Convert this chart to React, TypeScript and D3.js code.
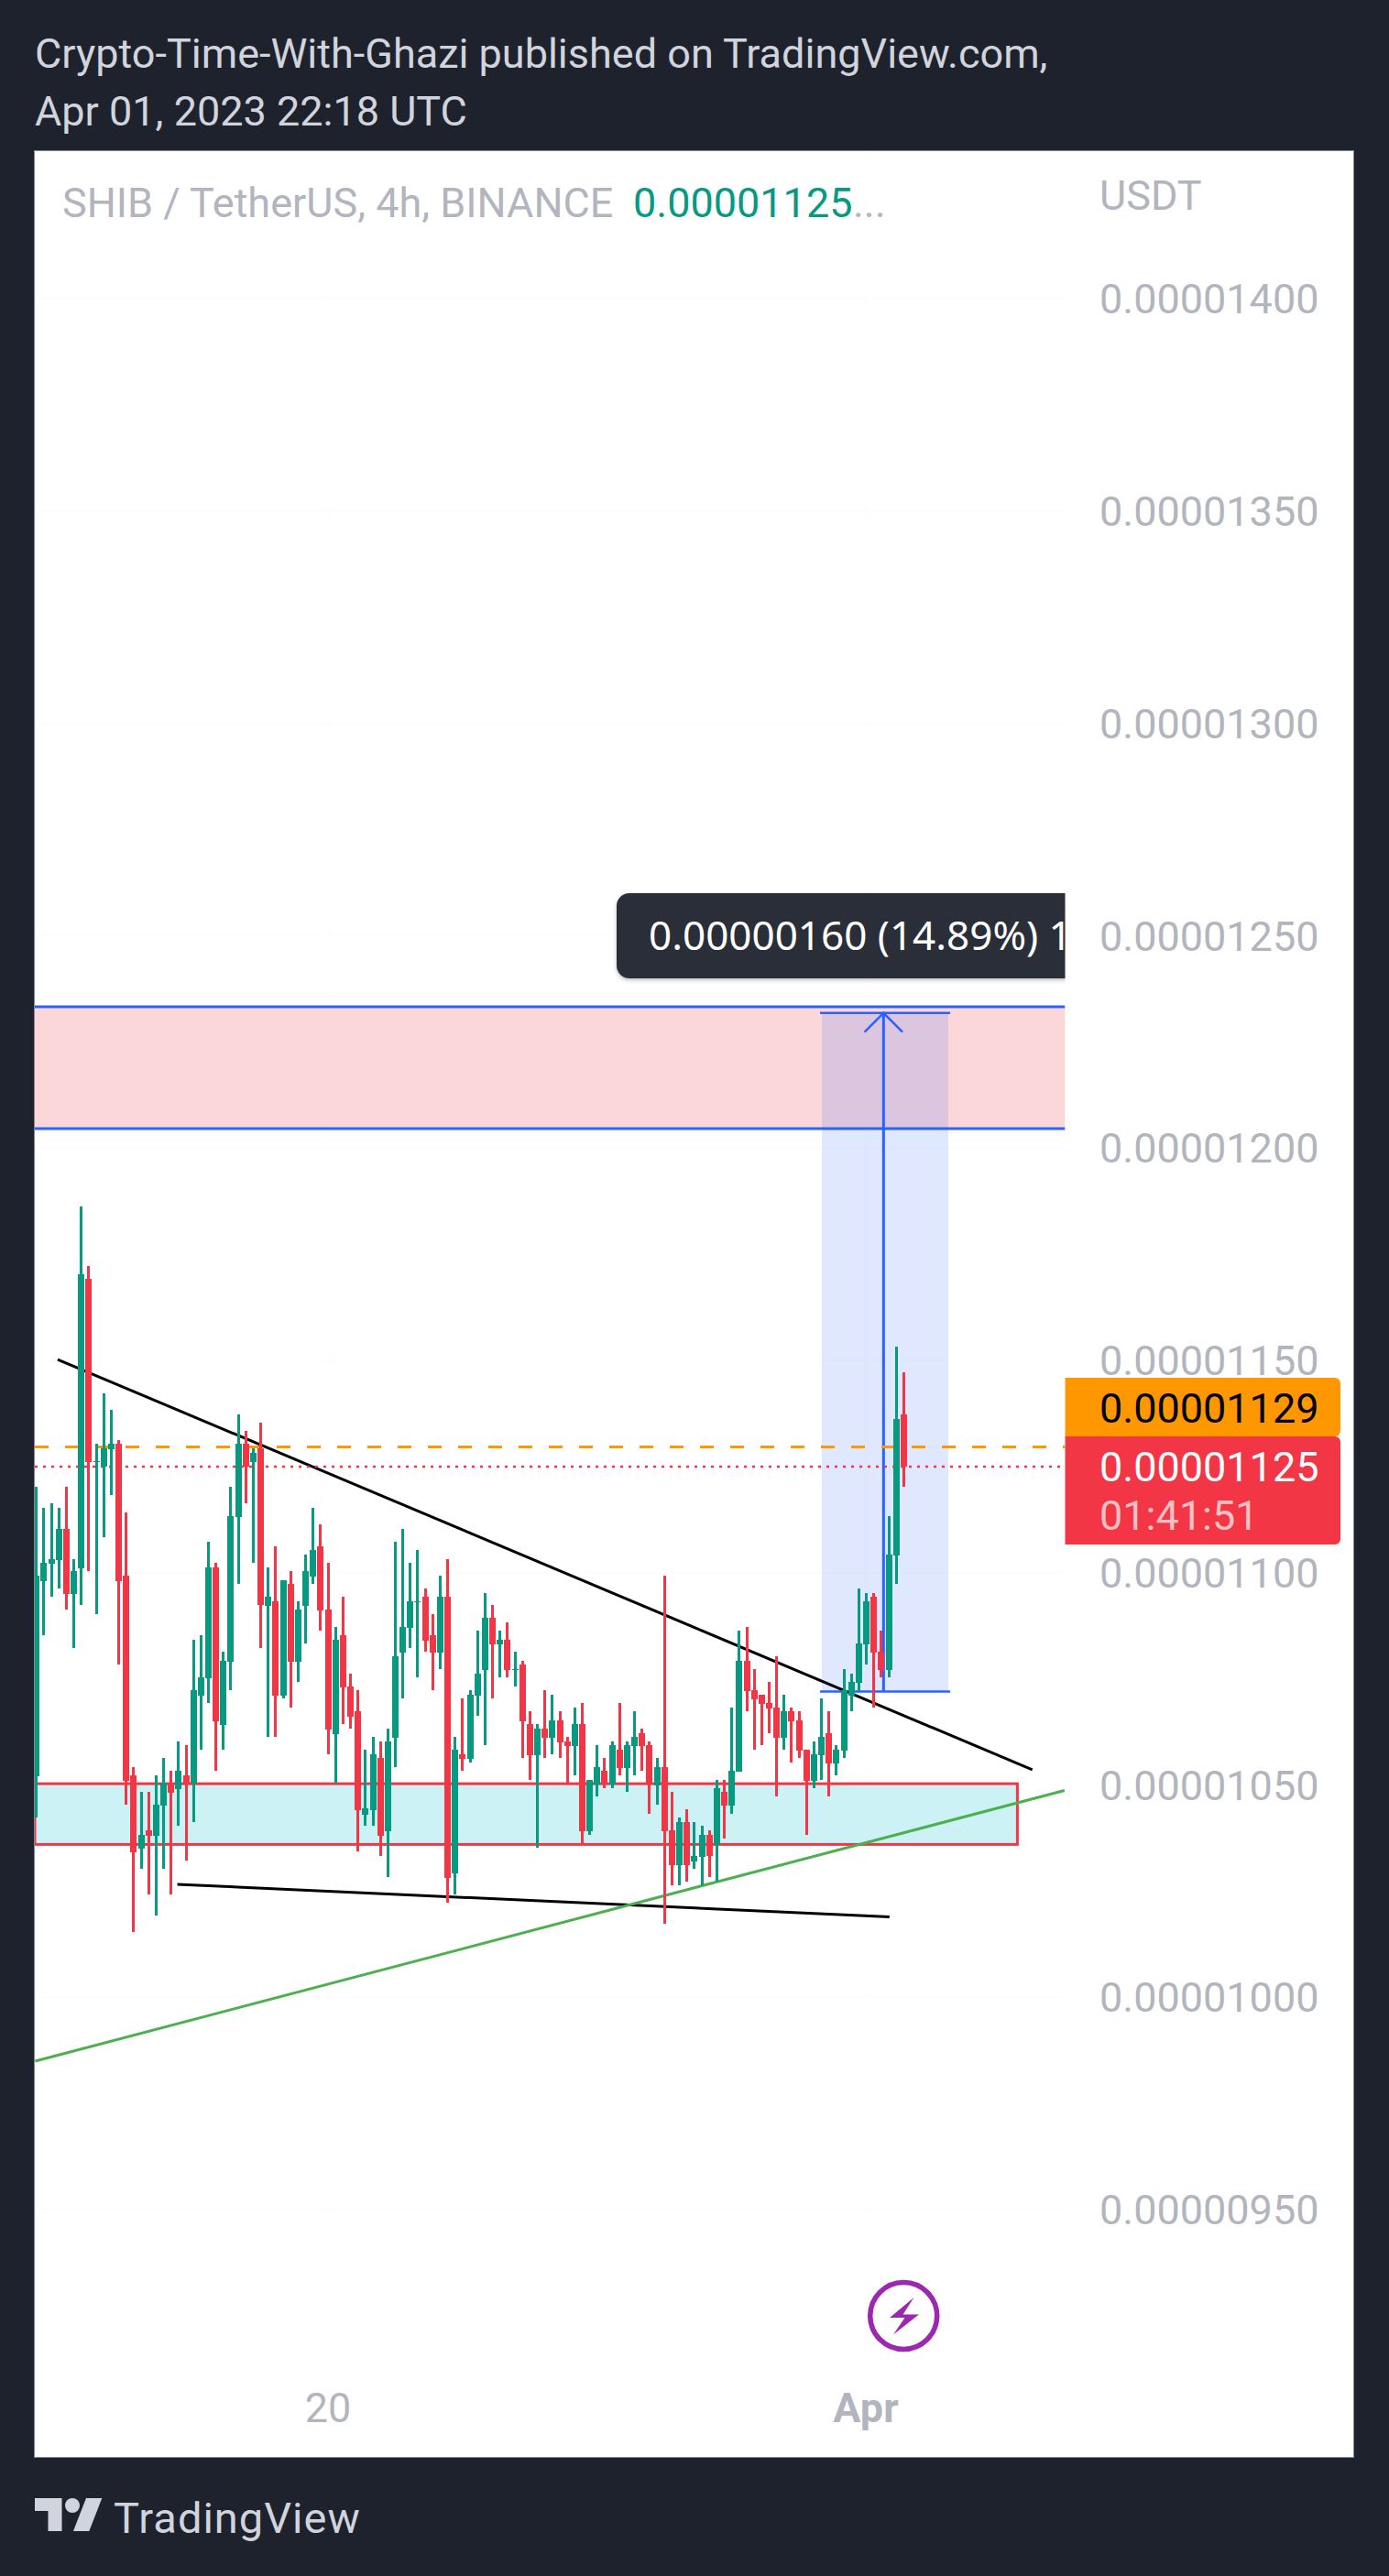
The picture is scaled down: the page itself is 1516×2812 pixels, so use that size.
import React from "react";
import * as d3 from "d3";

const opens = [1052.0,1098.0,1102.0,1103.0,1110.3,1094.9,1101.0,1169.3,1126.1,1125.0,
1129.0,1130.3,1099.3,1052.2,1034.9,1039.4,1038.0,1045.1,1050.5,1049.0,
1052.2,1050.3,1071.0,1075.2,1101.2,1064.2,1079.0,1113.1,1130.3,1126.1,
1129.3,1092.2,1093.3,1071.0,1097.3,1079.0,1092.2,1099.1,1106.2,1091.3,
1062.0,1085.3,1073.2,1067.3,1043.0,1044.1,1056.3,1039.1,1061.1,1081.2,
1087.0,1093.1,1094.4,1085.3,1081.2,1094.4,1029.2,1057.2,1056.2,1071.0,
1077.1,1089.3,1083.1,1084.2,1077.2,1078.3,1064.3,1057.0,1063.3,1061.1,
1065.2,1060.3,1059.1,1064.3,1039.1,1050.2,1053.3,1050.2,1058.4,1054.0,
1059.1,1062.2,1059.4,1050.0,1054.2,1039.3,1031.1,1041.3,1032.0,1033.1,
1038.2,1036.0,1048.4,1045.2,1053.1,1079.2,1072.3,1071.3,1069.3,1068.3,
1061.1,1067.4,1065.2,1058.3,1050.9,1057.0,1062.2,1055.1,1058.1,1071.1,
1074.0,1083.1,1094.3,1081.4,1077.0,1104.0,1137.2];

const highs = [1120.3,1115.3,1116.4,1115.3,1120.3,1103.2,1186.3,1172.2,1130.3,1142.3,
1138.4,1131.3,1114.2,1054.2,1048.3,1048.3,1052.2,1056.4,1053.3,1060.3,
1059.3,1084.2,1085.2,1107.3,1102.3,1081.3,1120.3,1137.3,1133.4,1129.3,
1135.3,1101.2,1106.2,1098.3,1100.4,1093.3,1104.3,1115.3,1111.4,1102.3,
1087.2,1094.4,1076.2,1072.4,1058.4,1061.3,1060.3,1063.3,1107.3,1110.3,
1102.3,1105.4,1096.3,1090.2,1099.3,1103.2,1061.3,1070.4,1072.4,1086.4,
1095.2,1092.4,1086.4,1088.3,1081.4,1079.2,1067.3,1064.3,1072.4,1071.3,
1067.3,1061.3,1068.2,1069.3,1051.2,1059.4,1056.3,1060.3,1069.3,1060.3,
1067.3,1063.3,1060.3,1056.3,1099.3,1048.4,1042.4,1044.3,1041.3,1040.4,
1039.3,1051.2,1051.2,1068.3,1086.4,1087.2,1077.3,1071.3,1074.2,1080.3,
1071.3,1068.3,1067.4,1058.3,1060.3,1070.4,1067.4,1059.4,1077.3,1076.3,
1096.3,1095.2,1095.2,1086.4,1113.3,1153.2,1147.2];

const lows = [1042.4,1085.2,1094.4,1096.2,1091.3,1082.3,1092.3,1100.4,1090.2,1108.3,
1118.3,1078.4,1045.4,1015.4,1030.2,1024.2,1019.2,1030.2,1024.2,1040.4,
1032.2,1041.2,1058.3,1069.3,1053.3,1058.3,1072.3,1097.3,1116.4,1102.3,
1082.3,1061.3,1061.3,1070.3,1068.2,1074.2,1083.3,1097.3,1086.3,1057.2,
1050.3,1064.3,1063.3,1034.4,1040.4,1040.4,1033.3,1028.3,1054.2,1070.4,
1082.2,1075.3,1081.4,1072.4,1077.3,1022.2,1024.2,1053.3,1055.3,1066.3,
1059.4,1070.4,1075.3,1075.3,1073.2,1056.3,1051.2,1035.2,1056.3,1057.2,
1056.3,1050.3,1052.3,1036.0,1038.3,1047.3,1049.3,1049.3,1052.3,1048.4,
1052.3,1053.3,1043.2,1045.3,1017.3,1026.4,1026.4,1027.2,1030.2,1026.4,
1028.3,1027.2,1037.4,1043.2,1053.1,1067.4,1058.3,1059.4,1062.2,1047.3,
1058.3,1055.3,1056.3,1038.2,1049.3,1051.2,1047.3,1052.3,1056.3,1067.4,
1072.1,1078.4,1068.3,1075.4,1075.4,1097.4,1120.2];

const closes = [1099.3,1102.3,1103.2,1110.3,1094.9,1100.4,1170.3,1126.1,1126.2,1129.3,
1130.3,1098.0,1050.9,1034.1,1038.3,1038.0,1045.4,1050.5,1048.2,1053.3,
1050.3,1072.3,1075.3,1101.2,1065.0,1079.2,1113.3,1130.3,1125.0,1128.2,
1092.3,1094.4,1071.0,1098.3,1079.0,1091.3,1100.4,1105.4,1091.2,1063.1,
1084.2,1073.0,1066.1,1044.1,1044.4,1057.2,1038.0,1060.3,1080.3,1087.2,
1093.2,1093.2,1084.0,1081.2,1094.4,1028.1,1058.4,1056.2,1071.3,1076.2,
1089.3,1083.1,1084.2,1077.1,1077.3,1065.0,1057.0,1063.3,1061.1,1065.2,
1060.0,1059.1,1064.3,1039.1,1051.2,1054.2,1050.2,1059.4,1054.0,1059.4,
1061.3,1059.2,1050.2,1054.2,1039.1,1031.1,1041.3,1031.1,1033.3,1038.2,
1033.2,1049.3,1045.2,1053.3,1079.2,1072.1,1070.2,1069.1,1068.0,1061.1,
1067.4,1065.0,1058.1,1050.9,1057.2,1061.3,1055.1,1058.3,1072.3,1074.2,
1083.3,1093.2,1081.2,1077.0,1104.3,1136.2,1125.0];

// Prices are in units of 1e-8 USDT
const priceTicks = [1400, 1350, 1300, 1250, 1200, 1150, 1100, 1050, 1000, 950];
const timeTicks = [
  { label: "20", bar: 39.0, bold: false },
  { label: "Apr", bar: 111.0, bold: true },
];
const titleLines = ["Crypto-Time-With-Ghazi published on TradingView.com,", "Apr 01, 2023 22:18 UTC"];
const legendName = "SHIB / TetherUS, 4h, BINANCE";
const legendValue = "0.00001125";
const measureText = "0.00000160 (14.89%) 1";
const orangePrice = 1129.6;
const lastPrice = 1125.0;
const pinkZone = [1233.3, 1204.6];
const cyanZone = [1050.3, 1036.0];
const cyanZoneEndBar = 131.2;
const measureBars = [105.05, 121.97, 113.3];
const measurePrices = [1072.0, 1231.8];
const blackLineA = [[2.84, 1150.2], [133.2, 1053.6]];
const blackLineB = [[18.84, 1026.6], [114.1, 1018.95]];
const greenLine = [[-0.18, 984.95], [137.5, 1048.7]];

const W = 1516, H = 2812;
const BG = "#1e222d", UP = "#089981", DOWN = "#f23645", BLUE = "#2962ff", TICK = "#b2b5be", HEAD = "#d1d4dc";
const L = 38, PR = 1162.5, R = 1477, T = 165, B = 2682;
const FONT = "Roboto, sans-serif";
const FS = 45;

const x = d3.scaleLinear().domain([0, 116]).range([39.8, 39.8 + 8.16 * 116]);
const y = d3.scaleLinear().domain([1150, 1050]).range([1485, 1948.5]);
const seg = d3.line<number[]>().x((d) => x(d[0])).y((d) => y(d[1]));
const fmt = (p: number) => (p / 1e8).toFixed(8);

export default function App() {
  const ar = measureBars[2];
  const topY = y(measurePrices[1]);
  const botY = y(measurePrices[0]);
  return (
    <svg width={W} height={H} viewBox={`0 0 ${W} ${H}`} style={{ position: "absolute", left: 0, top: 0, display: "block" }} fontFamily={FONT}>
      <defs>
        <clipPath id="pane"><rect x={L} y={T} width={PR - L} height={B - T} /></clipPath>
        <filter id="sh" x="-5%" y="-10%" width="110%" height="125%"><feDropShadow dx="0" dy="2" stdDeviation="2" floodColor="#000" floodOpacity="0.25" /></filter>
      </defs>
      <rect width={W} height={H} fill={BG} />
      <rect x={L - 0.5} y={T - 0.5} width={R - L + 1} height={B - T + 1} fill="#fff" stroke="#868993" strokeWidth={1} />

      {titleLines.map((t, i) => (
        <text key={t} x={L} y={74 + i * 62.5} fontSize={FS} fill={HEAD}>{t}</text>
      ))}

      <g clipPath="url(#pane)">
        {priceTicks.map((p) => <line key={p} x1={L} x2={PR} y1={y(p)} y2={y(p)} stroke="#fdfdfe" strokeWidth={2} />)}
        {timeTicks.map((t) => <line key={t.label} x1={x(t.bar)} x2={x(t.bar)} y1={T} y2={B - 70} stroke="#fdfdfe" strokeWidth={2} />)}

        <rect x={L} width={PR - L} y={y(pinkZone[0])} height={y(pinkZone[1]) - y(pinkZone[0])} fill={DOWN} fillOpacity={0.2} />
        <line x1={L} x2={PR} y1={y(pinkZone[0])} y2={y(pinkZone[0])} stroke={BLUE} strokeWidth={3} />
        <line x1={L} x2={PR} y1={y(pinkZone[1])} y2={y(pinkZone[1])} stroke={BLUE} strokeWidth={3} />

        <rect x={x(measureBars[0])} width={x(measureBars[1]) - x(measureBars[0])} y={topY} height={botY - topY} fill={BLUE} fillOpacity={0.15} />
        <line x1={x(measureBars[0]) - 2} x2={x(measureBars[1]) + 2} y1={topY} y2={topY} stroke={BLUE} strokeWidth={2.5} />
        <line x1={x(measureBars[0]) - 2} x2={x(measureBars[1]) + 2} y1={botY} y2={botY} stroke={BLUE} strokeWidth={2.5} />
        <line x1={x(ar)} x2={x(ar)} y1={topY} y2={botY} stroke={BLUE} strokeWidth={3} />
        <path d={`M${x(ar) - 20},${topY + 20}L${x(ar)},${topY}L${x(ar) + 20},${topY + 20}`} fill="none" stroke={BLUE} strokeWidth={2.5} strokeLinecap="round" />

        <rect x={L} width={x(cyanZoneEndBar) - L} y={y(cyanZone[0])} height={y(cyanZone[1]) - y(cyanZone[0])} fill="#ccf2f5" stroke={DOWN} strokeWidth={3} />

        <path d={seg(blackLineA) as string} stroke="#000" strokeWidth={3} fill="none" />
        <path d={seg(blackLineB) as string} stroke="#000" strokeWidth={3} fill="none" />
        <path d={seg(greenLine) as string} stroke="#4caf50" strokeWidth={3} fill="none" />

        <line x1={L} x2={PR} y1={y(orangePrice)} y2={y(orangePrice)} stroke="#ff9800" strokeWidth={3} strokeDasharray="15 18" />
        <line x1={L} x2={PR} y1={y(lastPrice)} y2={y(lastPrice)} stroke={DOWN} strokeWidth={2.5} strokeDasharray="3 6" />

        {opens.map((o, i) => {
          const c = closes[i];
          const col = c >= o ? UP : DOWN;
          const cx = Math.floor(x(i)) + 0.5;
          const top = Math.round(y(Math.max(o, c)));
          const bot = Math.max(top + 1, Math.round(y(Math.min(o, c))));
          const hi = Math.round(y(highs[i]));
          const lo = Math.round(y(lows[i]));
          return (
            <g key={i} fill={col} shapeRendering="crispEdges">
              <rect x={cx - 1.5} width={3} y={hi} height={lo - hi} />
              <rect x={cx - 3.5} width={7} y={top} height={bot - top} />
            </g>
          );
        })}

        <rect x={673} y={975} width={560} height={93} rx={14} fill="#2a2e39" filter="url(#sh)" />
        <text x={708} y={1037} fontSize={44} fill="#fff" fontFamily="'Noto Sans', sans-serif">{measureText}</text>
      </g>

      <text x={68} y={237} fontSize={FS} fill={TICK}>{legendName}</text>
      <text x={691} y={237} fontSize={FS} fill={UP}>{legendValue}</text>
      <text x={931} y={237} fontSize={FS} fill={TICK}>...</text>
      <text x={1200} y={229} fontSize={FS} fill={TICK}>USDT</text>

      {priceTicks.map((p) => (
        <text key={p} x={1200} y={y(p) + 16} fontSize={FS} fill={TICK}>{fmt(p)}</text>
      ))}

      {timeTicks.map((t) => (
        <text key={t.label} x={t.bold ? 945 : 358} y={2644} fontSize={FS} fill={TICK} textAnchor="middle" fontWeight={t.bold ? 700 : 400}>{t.label}</text>
      ))}

      <circle cx={x(115.98)} cy={2528} r={36.5} fill="#fff" stroke="#9c27b0" strokeWidth={5.5} />
      <path d="M997.5,2508 L971,2530 L987.5,2530 L975,2548.5 L1003,2526.5 L985.6,2526.5 Z" fill="#9c27b0" />

      <path d={`M${PR},1504H1457a6,6 0 0 1 6,6V1562a6,6 0 0 1 -6,6H${PR}Z`} fill="#ff9800" />
      <text x={1200} y={1553} fontSize={FS} fill="#000">{fmt(orangePrice - 0.6)}</text>
      <path d={`M${PR},1568H1457a6,6 0 0 1 6,6V1680a6,6 0 0 1 -6,6H${PR}Z`} fill={DOWN} />
      <text x={1200} y={1617} fontSize={FS} fill="#fff">{fmt(lastPrice)}</text>
      <text x={1200} y={1670} fontSize={FS} fill="#fff" fillOpacity={0.7}>01:41:51</text>

      <g fill={HEAD}>
        <path d="M38,2727H67.5V2763H52.5V2741H38Z" />
        <circle cx={79} cy={2735} r={8} />
        <path d="M111.3,2727L97.3,2763H80L94,2727Z" />
        <text x={124} y={2765} fontSize={47} letterSpacing={1}>TradingView</text>
      </g>
    </svg>
  );
}
